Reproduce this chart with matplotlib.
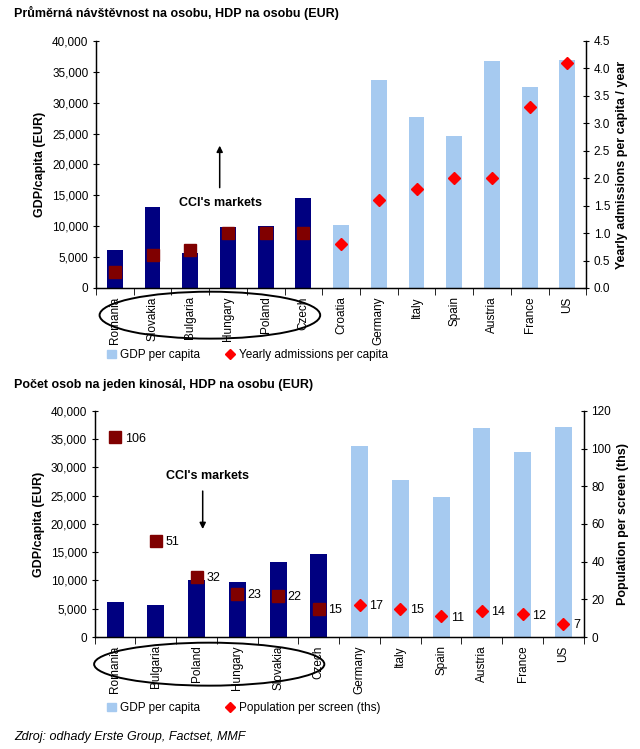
import numpy as np
import matplotlib
matplotlib.use("Agg")
import matplotlib.pyplot as plt
from matplotlib.patches import Ellipse, Patch
from matplotlib.lines import Line2D
import matplotlib.transforms as mtransforms

plt.rcParams['font.family'] = ['Liberation Sans', 'DejaVu Sans']

# top chart: admissions per capita
top_countries = ['Romania', 'Slovakia', 'Bulgaria', 'Hungary', 'Poland', 'Czech',
                 'Croatia', 'Germany', 'Italy', 'Spain', 'Austria', 'France', 'US']
top_gdp = [6200, 13100, 5700, 9800, 10100, 14500,
           10200, 33700, 27700, 24600, 36700, 32500, 36900]
top_admissions = [0.3, 0.6, 0.7, 1.0, 1.0, 1.0, 0.8, 1.6, 1.8, 2.0, 2.0, 3.3, 4.1]

# bottom chart: population per screen
bot_countries = ['Romania', 'Bulgaria', 'Poland', 'Hungary', 'Slovakia', 'Czech',
                 'Germany', 'Italy', 'Spain', 'Austria', 'France', 'US']
bot_gdp = [6200, 5700, 10000, 9700, 13200, 14600,
           33800, 27800, 24700, 36900, 32700, 37200]
bot_pop = [106, 51, 32, 23, 22, 15, 17, 15, 11, 14, 12, 7]

cci_markets = ['Romania', 'Slovakia', 'Bulgaria', 'Hungary', 'Poland', 'Czech']

NAVY = '#000080'
LIGHT = '#A6CAF0'
DARKRED = '#800000'
RED = '#FF0000'
FS = 8.5


def draw_panel(ax, countries, gdp, values, right_label, right_lim, right_ticks,
               right_fmt, labels, ell, text_pos, arrow):
    n = len(countries)
    x = np.arange(n)
    cci = [c in cci_markets for c in countries]
    colors = [NAVY if c else LIGHT for c in cci]
    ax.bar(x, gdp, width=0.42, color=colors, zorder=2)
    ax.set_xlim(-0.5, n - 0.5)
    ax.set_ylim(0, 40000)
    ax.set_yticks(np.arange(0, 40001, 5000))
    ax.set_yticklabels([f'{v:,}' for v in range(0, 40001, 5000)], fontsize=FS)
    ax.set_ylabel('GDP/capita (EUR)', fontsize=FS + 0.5, fontweight='bold', labelpad=4)
    ax.set_xticks(x)
    ax.set_xticklabels(countries, rotation=90, fontsize=FS)
    ax.set_xticks(np.arange(n + 1) - 0.5, minor=True)
    ax.tick_params(axis='x', which='major', length=0, pad=6)
    ax.tick_params(axis='x', which='minor', length=5, direction='out')
    ax.tick_params(axis='y', length=4, direction='inout')
    ax.spines['top'].set_visible(False)
    for s in ax.spines.values():
        s.set_linewidth(0.9)

    ax2 = ax.twinx()
    ax2.set_ylim(*right_lim)
    ax2.set_yticks(right_ticks)
    ax2.set_yticklabels([right_fmt(v) for v in right_ticks], fontsize=FS)
    ax2.tick_params(axis='y', length=4, direction='inout')
    ax2.spines['top'].set_visible(False)
    for s in ax2.spines.values():
        s.set_linewidth(0.9)
    ax2.set_ylabel(right_label, fontsize=FS + 0.5, fontweight='bold', labelpad=4)
    for i in range(n):
        if cci[i]:
            ax2.plot(x[i], values[i], marker='s', ms=8, color=DARKRED,
                     ls='none', zorder=3)
        else:
            ax2.plot(x[i], values[i], marker='D', ms=6.5, color=RED,
                     ls='none', zorder=3)
        if labels:
            ax2.annotate(f'{values[i]}', (x[i], values[i]), xytext=(7, -1),
                         textcoords='offset points', va='center', ha='left',
                         fontsize=FS + 0.5)

    trans = mtransforms.blended_transform_factory(ax.transData, ax.transAxes)
    ax.add_patch(Ellipse((ell[0], ell[1]), ell[2], ell[3], transform=trans,
                         fill=False, ec='black', lw=1.4, clip_on=False))
    ax.text(text_pos[0], text_pos[1], "CCI's markets", ha='center', va='center',
            fontsize=FS + 0.5, fontweight='bold')
    ax.annotate('', xy=(arrow[0], arrow[2]), xytext=(arrow[0], arrow[1]),
                arrowprops=dict(arrowstyle='-|>', color='black', lw=1.1,
                                mutation_scale=9))
    return ax2


fig = plt.figure(figsize=(6.4, 7.49), dpi=100)

ax_top = fig.add_axes([0.150, 0.6155, 0.766, 0.3298])
draw_panel(ax_top, top_countries, top_gdp, top_admissions,
           'Yearly admissions per capita / year', (0, 4.5),
           np.arange(0, 4.51, 0.5), lambda v: f'{v:.1f}', False,
           (2.52, -0.11, 5.85, 0.19), (2.8, 13800), (2.78, 15800, 23500))

ax_bot = fig.add_axes([0.148, 0.1495, 0.764, 0.302])
draw_panel(ax_bot, bot_countries, bot_gdp, bot_pop,
           'Population per screen (ths)', (0, 120),
           np.arange(0, 121, 20), lambda v: f'{v:g}', True,
           (2.31, -0.12, 5.65, 0.19), (2.27, 28400), (2.15, 26300, 18600))

fig.text(0.022, 0.982, 'Průměrná návštěvnost na osobu, HDP na osobu (EUR)',
         fontsize=9, fontweight='bold', va='center', ha='left')
fig.text(0.022, 0.486, 'Počet osob na jeden kinosál, HDP na osobu (EUR)',
         fontsize=9, fontweight='bold', va='center', ha='left')

handles_top = [Patch(color=LIGHT, label='GDP per capita'),
               Line2D([], [], marker='D', color=RED, ls='none', ms=5,
                      label='Yearly admissions per capita')]
fig.legend(handles=handles_top, loc='center left', bbox_to_anchor=(0.15, 0.526),
           ncol=2, frameon=False, fontsize=FS, handlelength=0.8,
           handletextpad=0.3, columnspacing=2.2)
handles_bot = [Patch(color=LIGHT, label='GDP per capita'),
               Line2D([], [], marker='D', color=RED, ls='none', ms=5,
                      label='Population per screen (ths)')]
fig.legend(handles=handles_bot, loc='center left', bbox_to_anchor=(0.15, 0.055),
           ncol=2, frameon=False, fontsize=FS, handlelength=0.8,
           handletextpad=0.3, columnspacing=2.2)

fig.text(0.022, 0.016, 'Zdroj: odhady Erste Group, Factset, MMF',
         fontsize=9, fontstyle='italic', va='center', ha='left')

fig.savefig('out.png', dpi=100)
